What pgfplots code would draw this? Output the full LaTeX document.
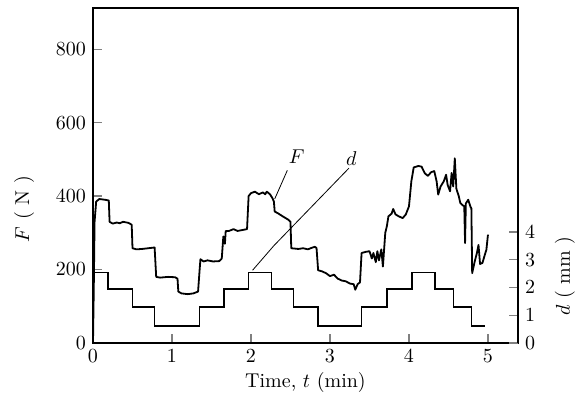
\documentclass[border=0pt]{standalone}
\usepackage{pgfplots}
\pgfplotsset{compat=1.18}

\pgfplotstableread{
t F
0.00 0
0.01 150
0.02 330
0.04 385
0.08 392
0.15 390
0.20 388
0.21 330
0.25 325
0.30 328
0.34 326
0.38 330
0.45 327
0.49 322
0.50 258
0.55 255
0.62 256
0.70 258
0.78 260
0.80 180
0.85 178
0.95 180
1.04 179
1.07 175
1.08 140
1.12 135
1.20 133
1.27 135
1.33 140
1.35 200
1.36 228
1.40 222
1.45 225
1.52 222
1.60 223
1.63 230
1.65 290
1.67 270
1.68 305
1.72 305
1.78 310
1.83 305
1.90 308
1.95 310
1.97 400
2.00 408
2.05 412
2.10 405
2.15 410
2.18 405
2.20 412
2.24 405
2.27 395
2.29 385
2.30 358
2.35 352
2.40 345
2.47 336
2.50 330
2.51 258
2.60 256
2.66 258
2.72 255
2.78 260
2.81 262
2.83 258
2.85 198
2.90 195
2.95 190
3.00 182
3.05 186
3.10 175
3.15 170
3.20 168
3.25 162
3.30 160
3.32 145
3.35 160
3.38 165
3.40 245
3.45 248
3.50 250
3.53 230
3.55 245
3.58 220
3.60 250
3.62 225
3.65 255
3.67 208
3.70 300
3.72 318
3.74 345
3.78 352
3.80 365
3.83 350
3.87 345
3.92 340
3.96 350
4.00 372
4.03 440
4.06 478
4.12 482
4.16 480
4.20 462
4.24 455
4.28 465
4.32 468
4.35 440
4.37 404
4.40 426
4.44 440
4.47 458
4.49 430
4.52 413
4.54 463
4.56 426
4.58 503
4.60 420
4.63 400
4.65 381
4.68 375
4.70 372
4.71 272
4.72 380
4.75 390
4.78 370
4.79 367
4.80 190
4.83 220
4.86 245
4.88 267
4.90 215
4.93 218
4.96 240
4.98 254
5.00 295
}\forcedata

\pgfplotstableread{
t d
0.00 2.55
0.19 1.95
0.50 1.30
0.78 0.62
1.35 1.30
1.66 1.95
1.97 2.55
2.26 1.95
2.54 1.30
2.85 0.62
3.40 1.30
3.72 1.95
4.04 2.55
4.33 1.95
4.56 1.30
4.79 0.62
4.96 0.62
}\dispdata

\begin{document}
\begin{tikzpicture}
\useasboundingbox (-46.5pt,-29.5pt) rectangle (243.5pt,171.5pt);
\begin{axis}[
    scale only axis, width=212.5pt, height=167.5pt,
    xmin=0, xmax=5.38, ymin=0, ymax=912,
    xtick={0,1,2,3,4,5}, ytick={0,200,400,600,800},
    xtick pos=left, ytick pos=left,
    axis line style={line width=0.8pt},
    major tick style={line width=0.6pt},
    xlabel={Time, $t$ (min)},
    xlabel shift=-2pt,
    ylabel={$F$ ( N )},
    ylabel style={at={(ticklabel cs:0.4,4pt)}},
]
\addplot[black, line width=0.9pt, line join=round] table[x=t, y=F] {\forcedata};
\draw[line width=0.4pt] (axis cs:2.46,470) -- (axis cs:2.30,392);
\draw[line width=0.4pt] (axis cs:3.24,476) -- (axis cs:2.29,265) -- (axis cs:2.02,198);
\node at (axis cs:2.58,508) {$F$};
\node at (axis cs:3.27,503) {$d$};
\end{axis}
\begin{axis}[
    scale only axis, width=212.5pt, height=167.5pt,
    xmin=0, xmax=5.38, ymin=0, ymax=12.08,
    hide x axis,
    axis y line*=right,
    ytick={0,1,2,3,4},
    axis line style={line width=0.8pt},
    major tick style={line width=0.6pt},
    ylabel={$d$ ( mm )},
    ylabel style={at={(ticklabel cs:0.2,3pt)}},
]
\addplot[black, line width=0.7pt, const plot] table[x=t, y=d] {\dispdata};
\end{axis}
\end{tikzpicture}
\end{document}
